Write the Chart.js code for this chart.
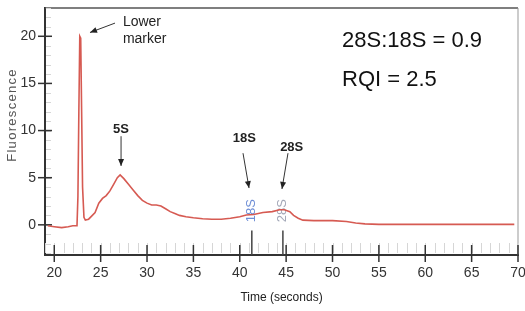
<!DOCTYPE html>
<html>
<head>
<meta charset="utf-8">
<script src="https://cdn.jsdelivr.net/npm/chart.js@4/dist/chart.umd.min.js"></script>
<style>
    html, body { margin: 0; padding: 0; background: #fff; }
    #wrap { width: 525px; height: 311px; }
</style>
</head>
<body>
<div id="wrap"><canvas id="trace" width="525" height="311"></canvas></div>
<script>
// Electropherogram trace (time in seconds vs fluorescence)
const timeSec = [
    19.3, 20.0, 20.8, 21.5, 22.0, 22.45, 22.55, 22.65, 22.75, 22.85, 22.95, 23.05, 23.2, 23.35,
    23.7, 24.0, 24.4, 24.8, 25.2, 25.6, 26.0, 26.4, 26.8, 27.1, 27.5, 28.0, 28.5, 29.0, 29.5,
    30.0, 30.5, 31.0, 31.5, 32.0, 32.5, 33.0, 33.5, 34.2, 35.0, 36.0, 37.0, 38.0, 39.0, 40.0,
    40.7, 41.5, 42.5, 43.5, 44.3, 44.8, 45.4, 45.8, 46.3, 46.8, 48.0, 50.0, 51.5, 52.5, 53.5,
    55.0, 57.0, 60.0, 63.0, 66.0, 69.6,
];
const fluorescence = [
    -0.1, -0.2, -0.3, -0.2, -0.1, -0.1, 3, 12, 20, 19.8, 12, 4, 0.8, 0.5,
    0.6, 0.9, 1.3, 2.3, 2.8, 3.1, 3.6, 4.3, 5.0, 5.3, 4.9, 4.3, 3.7, 3.1, 2.6,
    2.3, 2.1, 2.1, 2.0, 1.7, 1.4, 1.2, 1.0, 0.85, 0.75, 0.65, 0.6, 0.6, 0.7, 0.85,
    1.05, 1.1, 1.3, 1.4, 1.6, 1.6, 1.4, 1.0, 0.7, 0.5, 0.45, 0.45, 0.35, 0.2, 0.1,
    0.05, 0.05, 0.05, 0.05, 0.05, 0.05,
];

const xTickValues = [20, 25, 30, 35, 40, 45, 50, 55, 60, 65, 70];
const yTickValues = [0, 5, 10, 15, 20];

// callouts: text anchor and arrow (tail -> tip), in data units
const calloutTexts = [['Lower', 'marker'], ['5S'], ['18S'], ['28S']];
const calloutAnchors = [[27.4, 21.5], [27.2, 10.1], [40.5, 9.2], [45.6, 8.25]];
const calloutArrows = [
    [26.55, 21.4, 23.85, 20.4],
    [27.2, 9.4, 27.2, 6.25],
    [40.35, 7.6, 41.0, 3.9],
    [45.2, 7.6, 44.55, 3.8],
];

// peak-table marks drawn on the trace
const peakNames = ['18S', '28S'];
const peakTimes = [41.3, 44.65];

const ratioLines = ['28S:18S = 0.9', 'RQI = 2.5'];

const SANS = "'Liberation Sans', Arial, sans-serif";

function arrow(ctx, x1, y1, x2, y2) {
    const ang = Math.atan2(y2 - y1, x2 - x1);
    ctx.beginPath();
    ctx.moveTo(x1, y1);
    ctx.lineTo(x2, y2);
    ctx.stroke();
    ctx.beginPath();
    ctx.moveTo(x2, y2);
    ctx.lineTo(x2 - 7 * Math.cos(ang) + 3 * Math.sin(ang), y2 - 7 * Math.sin(ang) - 3 * Math.cos(ang));
    ctx.lineTo(x2 - 7 * Math.cos(ang) - 3 * Math.sin(ang), y2 - 7 * Math.sin(ang) + 3 * Math.cos(ang));
    ctx.closePath();
    ctx.fill();
}

const decorPlugin = {
    id: 'decor',
    beforeDatasetsDraw(chart) {
        const { ctx, chartArea: a, scales: { x, y } } = chart;
        ctx.save();

        // top / right frame
        ctx.strokeStyle = '#555';
        ctx.lineWidth = 1.5;
        ctx.beginPath();
        ctx.moveTo(a.left, a.top);
        ctx.lineTo(a.right, a.top);
        ctx.stroke();
        ctx.strokeStyle = '#999';
        ctx.lineWidth = 1;
        ctx.beginPath();
        ctx.moveTo(a.right, a.top);
        ctx.lineTo(a.right, a.bottom);
        ctx.stroke();

        // minor ticks
        ctx.strokeStyle = '#d6d6d6';
        ctx.lineWidth = 1;
        for (let v = Math.ceil(x.min); v <= x.max; v++) {
            const px = Math.round(x.getPixelForValue(v)) + 0.5;
            ctx.beginPath();
            ctx.moveTo(px, a.bottom - 12);
            ctx.lineTo(px, a.bottom - 2);
            ctx.stroke();
        }
        for (let v = Math.ceil(y.min); v <= y.max; v++) {
            const py = Math.round(y.getPixelForValue(v)) + 0.5;
            ctx.beginPath();
            ctx.moveTo(a.left + 1, py);
            ctx.lineTo(a.left + 6, py);
            ctx.stroke();
        }

        // major "+" ticks
        ctx.strokeStyle = '#333';
        ctx.lineWidth = 1.5;
        x.ticks.forEach((t) => {
            const px = x.getPixelForValue(t.value);
            ctx.beginPath();
            ctx.moveTo(px, a.bottom - 10);
            ctx.lineTo(px, a.bottom + 7);
            ctx.stroke();
        });
        y.ticks.forEach((t) => {
            const py = y.getPixelForValue(t.value);
            ctx.beginPath();
            ctx.moveTo(a.left - 7, py);
            ctx.lineTo(a.left + 7, py);
            ctx.stroke();
        });

        // peak marks
        const peakColors = ['#6f8fd6', '#a3a8b8'];
        peakNames.forEach((name, i) => {
            const px = x.getPixelForValue(peakTimes[i]);
            ctx.strokeStyle = '#444';
            ctx.lineWidth = 1.5;
            ctx.beginPath();
            ctx.moveTo(px, y.getPixelForValue(-0.6));
            ctx.lineTo(px, a.bottom);
            ctx.stroke();
            ctx.save();
            ctx.translate(px, y.getPixelForValue(1.5));
            ctx.rotate(-Math.PI / 2);
            ctx.fillStyle = peakColors[i];
            ctx.font = '13px ' + SANS;
            ctx.textAlign = 'center';
            ctx.textBaseline = 'middle';
            ctx.fillText(name, 0, 0);
            ctx.restore();
        });
        ctx.restore();
    },
    afterDatasetsDraw(chart) {
        const { ctx, scales: { x, y } } = chart;
        ctx.save();
        ctx.fillStyle = '#222';
        ctx.strokeStyle = '#333';
        ctx.lineWidth = 1;

        calloutTexts.forEach((lines, i) => {
            const [ax, ay] = calloutAnchors[i];
            const px = x.getPixelForValue(ax);
            const py = y.getPixelForValue(ay);
            ctx.textBaseline = 'middle';
            if (lines.length > 1) {
                ctx.font = '14px ' + SANS;
                ctx.textAlign = 'left';
                lines.forEach((l, j) => ctx.fillText(l, px, py + j * 16.5));
            } else {
                ctx.font = 'bold 13px ' + SANS;
                ctx.textAlign = 'center';
                ctx.fillText(lines[0], px, py);
            }
            const [x1, y1, x2, y2] = calloutArrows[i];
            arrow(ctx, x.getPixelForValue(x1), y.getPixelForValue(y1),
                x.getPixelForValue(x2), y.getPixelForValue(y2));
        });

        // ratio / RQI text
        ctx.font = '22px ' + SANS;
        ctx.textAlign = 'left';
        ctx.textBaseline = 'middle';
        ctx.fillStyle = '#111';
        ratioLines.forEach((l, i) => ctx.fillText(l, 342, 41 + i * 39));

        // y title
        ctx.save();
        ctx.translate(12, 115);
        ctx.rotate(-Math.PI / 2);
        ctx.font = '13px ' + SANS;
        ctx.letterSpacing = '1.3px';
        ctx.fillStyle = '#555';
        ctx.textAlign = 'center';
        ctx.textBaseline = 'middle';
        ctx.fillText('Fluorescence', 0, 0);
        ctx.restore();

        ctx.restore();
    },
};

const points = timeSec.map((t, i) => ({ x: t, y: fluorescence[i] }));

new Chart(document.getElementById('trace').getContext('2d'), {
    type: 'line',
    data: {
        datasets: [
            {
                data: points,
                borderColor: '#d65a52',
                borderWidth: 1.6,
                pointRadius: 0,
                tension: 0,
            },
        ],
    },
    options: {
        responsive: false,
        animation: false,
        devicePixelRatio: 1,
        layout: { padding: { top: 8, right: 7, left: 0, bottom: 0 } },
        plugins: {
            legend: { display: false },
            tooltip: { enabled: false },
        },
        scales: {
            x: {
                type: 'linear',
                min: 19,
                max: 70,
                afterBuildTicks: (scale) => {
                    scale.ticks = xTickValues.map((v) => ({ value: v }));
                },
                afterFit: (scale) => {
                    scale.height = 56;
                    scale.paddingLeft = 0;
                    scale.paddingRight = 0;
                },
                grid: { display: false, tickLength: 0 },
                border: { display: true, color: '#333', width: 2 },
                ticks: {
                    padding: 10,
                    color: '#333',
                    maxRotation: 0,
                    font: { family: SANS, size: 14 },
                },
                title: {
                    display: true,
                    text: 'Time (seconds)',
                    color: '#222',
                    padding: { top: 0, bottom: 6 },
                    font: { family: SANS, size: 12 },
                },
            },
            y: {
                min: -3.2,
                max: 23,
                afterBuildTicks: (scale) => {
                    scale.ticks = yTickValues.map((v) => ({ value: v }));
                },
                afterFit: (scale) => {
                    scale.width = 45;
                    scale.paddingTop = 0;
                    scale.paddingBottom = 0;
                },
                grid: { display: false, tickLength: 0 },
                border: { display: true, color: '#333', width: 2 },
                ticks: {
                    padding: 9,
                    color: '#333',
                    font: { family: SANS, size: 14 },
                },
            },
        },
    },
    plugins: [decorPlugin],
});
</script>
</body>
</html>
